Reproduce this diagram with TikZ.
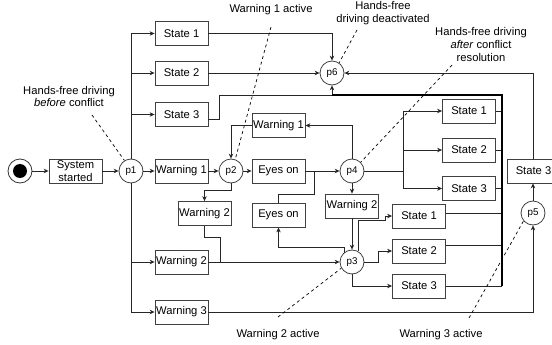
\documentclass[tikz,border=0pt]{standalone}
\usepackage{fontspec}
\setmainfont{Liberation Sans}
\usetikzlibrary{arrows.meta}
\begin{document}
\begin{tikzpicture}[x=1pt,y=-1pt,
  font=\fontsize{11.2}{12.5}\selectfont,
  box/.style={draw=black!75, line width=0.8pt, minimum width=53pt, minimum height=24pt, inner sep=0pt, align=center},
  place/.style={circle, draw=black!75, line width=0.8pt, minimum size=24pt, inner sep=0pt, font=\fontsize{9.8}{11}\selectfont},
  wire/.style={line width=0.7pt, draw=black!85},
  arr/.style={wire, -{Stealth[length=5pt,width=4.5pt]}},
  trunk/.style={line width=1.5pt, draw=black},
  note/.style={line width=0.7pt, dash pattern=on 3pt off 3pt},
  lbl/.style={align=center, inner sep=0pt, font=\fontsize{11.2}{12.8}\selectfont}]
\useasboundingbox (0,0) rectangle (552,345);

% initial state
\node (start) [circle, draw=black!80, line width=0.8pt, minimum size=24pt, inner sep=0pt] at (20,171) {};
\node (startdot) [circle, fill=black, minimum size=14pt, inner sep=0pt] at (start) {};

% boxes
\node (sys)   [box] at (75.5,171) {System\\started};
\node (s1)    [box] at (181.5,33.5) {State 1};
\node (s2)    [box] at (181.5,73) {State 2};
\node (s3)    [box] at (181.5,114.5) {State 3};
\node (w1)    [box] at (181.5,171) {Warning 1};
\node (w2a)   [box] at (181.5,262) {Warning 2};
\node (w3)    [box] at (181.5,312) {Warning 3};
\node (w2b)   [box] at (204.5,213.5) {Warning 2};
\node (eyes1) [box] at (278.5,171) {Eyes on};
\node (wa1)   [box] at (278.5,125.5) {Warning 1};
\node (eyes2) [box] at (278.5,215) {Eyes on};
\node (w2c)   [box] at (352,206) {Warning 2};
\node (s1a)   [box] at (469,111) {State 1};
\node (s2a)   [box] at (469,150) {State 2};
\node (s3a)   [box] at (469,188.5) {State 3};
\node (s1b)   [box] at (419,216) {State 1};
\node (s2b)   [box] at (419,251) {State 2};
\node (s3b)   [box] at (419,286) {State 3};
\node (s3r)   [box] at (533.5,171) {State 3};

% places
\node (p1) [place] at (131,171) {p1};
\node (p2) [place] at (231,171) {p2};
\node (p4) [place] at (352,171) {p4};
\node (p3) [place] at (352,262) {p3};
\node (p6) [place] at (332,73) {p6};
\node (p5) [place] at (533,213) {p5};

% junction points
\coordinate (j1) at (314,171);
\coordinate (j2) at (220,262);
\coordinate (j3) at (403,171);
\coordinate (tt) at (502,95);
\coordinate (tb) at (502,286);

% main line
\draw[arr] (start) -- (sys);
\draw[arr] (sys) -- (p1);
\draw[arr] (p1) -- (w1);
\draw[arr] (w1) -- (p2);
\draw[arr] (p2) -- (eyes1);
\draw[arr] (eyes1) -- (p4);

% p1 fan-out
\draw[arr] (p1.north) |- (s1.west);
\draw[arr] (p1.north) |- (s2.west);
\draw[arr] (p1.north) |- (s3.west);
\draw[arr] (p1.south) |- (w2a.west);
\draw[arr] (p1.south) |- (w3.west);

% states into p6
\draw[arr] (s1.east) -| (p6.north);
\draw[arr] (s2.east) -- (p6.west);
\draw[arr] ([yshift=-5pt]s3.east) -- ++(11,0) |- (p6.south |- tt) -- (p6.south);
\draw[arr] (s3r.north -| p5) |- (p6.east);

% warning 1 loop
\draw[arr] (p4.north) |- (wa1.east);
\draw[arr] (wa1.west) -| (p2.north);
\draw[wire] (eyes2.north) -- ++(0,-8) -| (j1);

% warning 2 paths
\draw[arr] (p2.south) -- ++(0,7) -| (w2b.north);
\draw[wire] (w2b.south) -- ++(0,11) -| (j2);
\draw[arr] (w2a.east) -- (p3.west);
\draw[arr] (p4.south) -- (w2c.north);
\draw[arr] (w2c.south) -- (p3.north);
\draw[arr] (p3.130) -- ++(0,-5) -| (eyes2.south);

% p3 fan-out
\draw[arr] (p3.60) -- ++(0,-31) -- ++(27,0) |- (s1b.west);
\draw[arr] (p3.east) -- ++(14,0) |- (s2b.west);
\draw[arr] (p3.south) |- (s3b.west);

% p4 fan-out
\draw[wire] (p4.east) -- (j3);
\draw[arr] (j3) |- (s1a.west);
\draw[arr] (j3) |- (s2a.west);
\draw[arr] (j3) |- (s3a.west);

% states back to p6 via the trunk
\draw[wire] (s1a.east) -- (s1a.east -| tt);
\draw[wire] (s2a.east) -- (s2a.east -| tt);
\draw[wire] (s3a.east) -- (s3a.east -| tt);
\draw[wire] ([yshift=3pt]s1b.east) -- ([yshift=3pt]s1b.east -| tt);
\draw[wire] ([yshift=6pt]s2b.east) -- ([yshift=6pt]s2b.east -| tt);
\draw[wire] (s3b.east) -- (tb);
\draw[trunk] (tb) -- (tt) -- (p6.south |- tt);

% warning 3 path
\draw[arr] (w3.east) -| (p5.south);
\draw[arr] (p5.north) -- (s3r.south -| p5);

% annotations
\node (nbefore) [lbl] at (69,96.5) {Hands-free driving\\\textit{before} conflict};
\node (nw1) [lbl] at (271,10) {Warning 1 active};
\node (ndeact) [lbl] at (383,13) {Hands-free\\driving deactivated};
\node (nafter) [lbl] at (481,44.5) {Hands-free driving\\\textit{after} conflict\\resolution};
\node (nw2) [lbl] at (278,335) {Warning 2 active};
\node (nw3) [lbl] at (441,335) {Warning 3 active};

\coordinate (a1) at (92,115);
\coordinate (a2) at (271,27);
\coordinate (a3) at (357,30);
\coordinate (a4) at (452,65);
\coordinate (a5) at (278,317);
\coordinate (a6) at (469,318);
\draw[note] (a1) -- (p1.122);
\draw[note] (a2) -- (p2.70);
\draw[note] (a3) -- (p6.55);
\draw[note] (a4) -- (p4.45);
\draw[note] (a5) -- (p3.210);
\draw[note] (a6) -- (p5.220);
\end{tikzpicture}
\end{document}
